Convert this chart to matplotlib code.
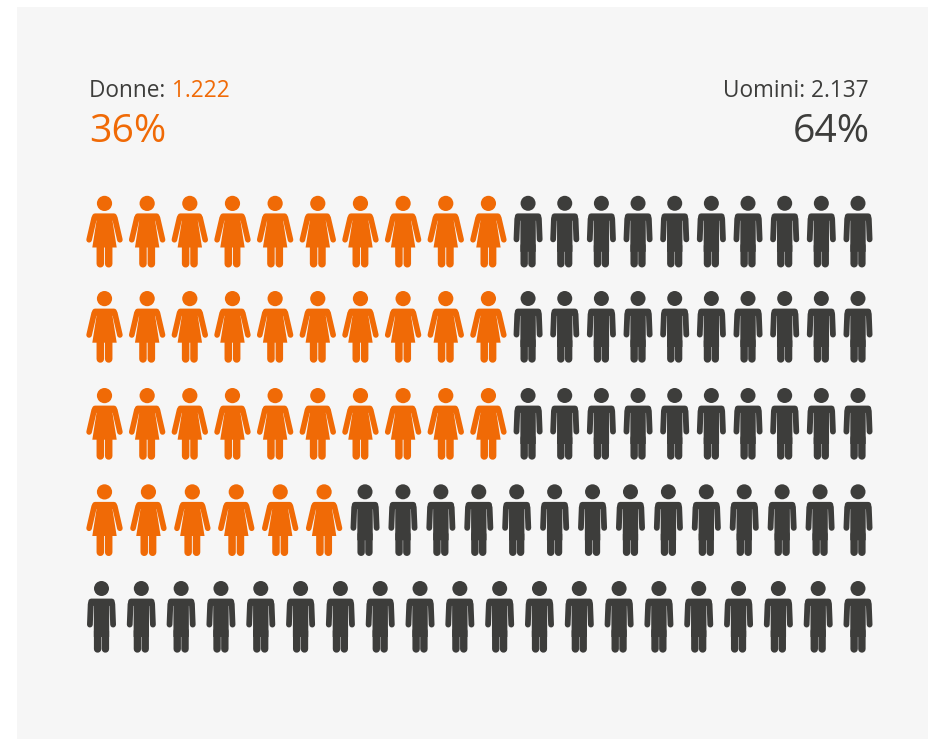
import matplotlib
matplotlib.use("Agg")
import matplotlib.pyplot as plt
from matplotlib.patches import Polygon, Circle, Rectangle

# ---- data
women_per_row = [10, 10, 10, 6, 0]
men_per_row = [10, 10, 10, 14, 20]
women_label = "Donne: "
women_count = "1.222"
women_share = "36%"
men_label = "Uomini: 2.137"
men_share = "64%"

ORANGE = "#F06A06"
DARK = "#3D3D3B"
PANEL = "#F6F6F6"
W, H = 929, 739
DPI = 100
PX = 72 / DPI

fig = plt.figure(figsize=(W / DPI, H / DPI), dpi=DPI, facecolor="white")
ax = fig.add_axes([0, 0, 1, 1])
ax.set_xlim(0, W)
ax.set_ylim(H, 0)
ax.axis("off")
ax.add_patch(Rectangle((17, 7), W - 17 + 2, H - 7 + 2, fc=PANEL, ec="none", zorder=0))

FONT = ["Open Sans", "DejaVu Sans"]


def stroke(xs, ys, width, color):
    ax.plot(xs, ys, color=color, lw=width * PX, solid_capstyle="round",
            solid_joinstyle="round", zorder=3, snap=False)


def poly(points, color, lw=0.0, zorder=3):
    ax.add_patch(Polygon(points, fc=color, ec=color if lw else "none", lw=lw * PX,
                         joinstyle="round", zorder=zorder, snap=False))


def draw_woman(cx, top):
    c = ORANGE
    ax.add_patch(Circle((cx, top + 7.6), 7.6, fc=c, ec="none", zorder=3))
    for s in (-1, 1):
        stroke([cx + s * 4.2, cx + s * 4.2], [top + 48, top + 68], 7.5, c)
        stroke([cx + s * 10.3, cx + s * 15.4], [top + 22, top + 44], 5.6, c)
    # shoulders, with rounded corners
    poly([(cx - 9.5, top + 20.4), (cx + 9.5, top + 20.4),
          (cx + 9.5, top + 22), (cx - 9.5, top + 22)], c, lw=5.6)
    # dress, kept clear of the arms by a thin slit
    poly([(cx - 8.0, top + 20), (cx + 8.0, top + 20), (cx + 8.0, top + 25),
          (cx + 12.2, top + 51.7), (cx - 12.2, top + 51.7), (cx - 8.0, top + 25)],
         c, zorder=4)


def draw_man(cx, top):
    c = DARK
    ax.add_patch(Circle((cx, top + 7.5), 7.5, fc=c, ec="none", zorder=3))
    for s in (-1, 1):
        stroke([cx + s * 3.9, cx + s * 3.9], [top + 50, top + 68], 7.4, c)
        stroke([cx + s * 10.8, cx + s * 11.6], [top + 23, top + 43.6], 5.8, c)
    poly([(cx - 10.3, top + 20.5), (cx + 10.3, top + 20.5),
          (cx + 10.3, top + 22), (cx - 10.3, top + 22)], c, lw=5.8)
    ax.add_patch(Rectangle((cx - 7.7, top + 20), 15.4, 36, fc=c, ec="none",
                           zorder=4, snap=False))


# ---- icons: every row is justified between the same two edges
LEFT, RIGHT = 86.5, 873.0
WOMAN_W, MAN_W = 36.0, 30.0
ROW_TOPS = [195.8, 291.0, 388.0, 484.3, 581.0]

for n_w, n_m, top in zip(women_per_row, men_per_row, ROW_TOPS):
    used = n_w * WOMAN_W + n_m * MAN_W
    gap = (RIGHT - LEFT - used) / (n_w + n_m - 1)
    x = LEFT
    for _ in range(n_w):
        draw_woman(x + WOMAN_W / 2, top)
        x += WOMAN_W + gap
    for _ in range(n_m):
        draw_man(x + MAN_W / 2, top)
        x += MAN_W + gap

# ---- headers
small = dict(fontsize=16.3, family=FONT, va="baseline")
big = dict(fontsize=28.2, family=FONT, va="baseline")
ax.text(89.5, 97, women_label, color=DARK, ha="left", **small)
ax.text(172, 97, women_count, color=ORANGE, ha="left", **small)
ax.text(89.5, 142, women_share, color=ORANGE, ha="left", **big)
ax.text(869, 97, men_label, color=DARK, ha="right", **small)
ax.text(869.5, 142, men_share, color=DARK, ha="right", **big)

fig.savefig("out.png", dpi=DPI, facecolor="white")
